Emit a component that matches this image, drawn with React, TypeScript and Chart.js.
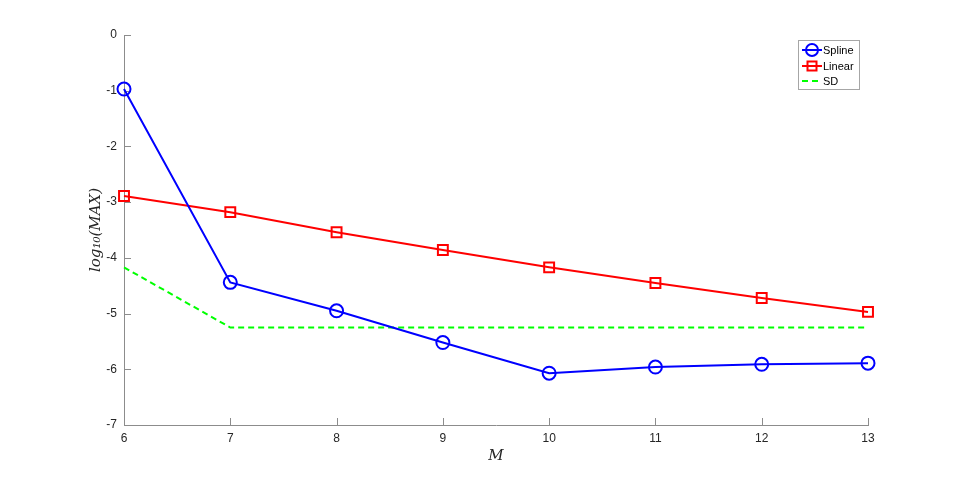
import React, { useEffect, useRef } from "react";
import { Chart, registerables } from "chart.js";

Chart.register(...registerables);

const M = [6, 7, 8, 9, 10, 11, 12, 13];
const spline = [-0.97, -4.44, -4.95, -5.52, -6.07, -5.96, -5.91, -5.89];
const linear = [-2.89, -3.18, -3.54, -3.86, -4.17, -4.45, -4.72, -4.97];
const sd = [-4.17, -5.25, -5.25, -5.25, -5.25, -5.25, -5.25, -5.25];
const xTicks = [6, 7, 8, 9, 10, 11, 12, 13];
const yTicks = [0, -1, -2, -3, -4, -5, -6, -7];
const seriesNames = ["Spline", "Linear", "SD"];
const xTitle = "M";
const yTitle = "log₁₀(MAX)";

const AXIS_COLOR = "#8c8c8c";
const TEXT_COLOR = "#262626";
const FONT = "Liberation Sans, Arial, Helvetica, sans-serif";

const overlay = {
  id: "overlay",
  beforeDatasetsDraw(chart: any) {
    const ctx = chart.ctx;
    const area = chart.chartArea;
    const xs = chart.scales.x;
    const ys = chart.scales.y;
    ctx.save();
    ctx.strokeStyle = AXIS_COLOR;
    ctx.lineWidth = 1;
    ctx.beginPath();
    for (const v of xTicks) {
      const px = Math.round(xs.getPixelForValue(v)) + 0.5;
      ctx.moveTo(px, area.bottom);
      ctx.lineTo(px, area.bottom - 7);
    }
    for (const v of yTicks) {
      const py = Math.round(ys.getPixelForValue(v)) + 0.5;
      ctx.moveTo(area.left, py);
      ctx.lineTo(area.left + 7, py);
    }
    ctx.stroke();
    ctx.restore();
  },
  afterDraw(chart: any) {
    const ctx = chart.ctx;
    const area = chart.chartArea;
    ctx.save();
    ctx.fillStyle = TEXT_COLOR;
    ctx.font = "italic 15px 'DejaVu Serif', 'Liberation Serif', serif";
    ctx.textAlign = "center";
    ctx.textBaseline = "middle";
    ctx.fillText(xTitle, (area.left + area.right) / 2, 456);
    ctx.translate(96, (area.top + area.bottom) / 2);
    ctx.rotate(-Math.PI / 2);
    ctx.font = "italic 15px 'DejaVu Serif', 'Liberation Serif', serif";
    ctx.fillText(yTitle, 0, 0);
    ctx.restore();

    ctx.save();
    const bx = 798.5, by = 40.5, bw = 61, bh = 49;
    ctx.fillStyle = "#ffffff";
    ctx.fillRect(bx, by, bw, bh);
    ctx.strokeStyle = "#a6a6a6";
    ctx.lineWidth = 1;
    ctx.strokeRect(bx, by, bw, bh);
    const rows = [50, 66, 81];
    const colors = ["#0000ff", "#ff0000", "#00ff00"];
    ctx.font = `11px ${FONT}`;
    ctx.textBaseline = "middle";
    ctx.textAlign = "left";
    for (let i = 0; i < 3; i++) {
      const y = rows[i];
      ctx.strokeStyle = colors[i];
      ctx.lineWidth = 2;
      ctx.beginPath();
      if (i === 2) ctx.setLineDash([6, 4]);
      ctx.moveTo(802, y);
      ctx.lineTo(822, y);
      ctx.stroke();
      ctx.setLineDash([]);
      if (i === 0) {
        ctx.beginPath();
        ctx.arc(812, y, 6, 0, Math.PI * 2);
        ctx.stroke();
      } else if (i === 1) {
        ctx.strokeRect(807.5, y - 4.5, 9, 9);
      }
      ctx.fillStyle = "#000000";
      ctx.fillText(seriesNames[i], 823, y + 1);
    }
    ctx.restore();
  },
};

export default function App() {
  const ref = useRef<HTMLCanvasElement | null>(null);
  useEffect(() => {
    if (!ref.current) return;
    const mk = (arr: number[]) => M.map((m, i) => ({ x: m, y: arr[i] }));
    const chart = new Chart(ref.current, {
      type: "line",
      data: {
        datasets: [
          {
            label: seriesNames[0],
            data: mk(spline),
            borderColor: "#0000ff",
            borderWidth: 2,
            pointStyle: "circle",
            pointRadius: 6.5,
            pointBorderWidth: 2,
            pointBackgroundColor: "rgba(0,0,0,0)",
            pointBorderColor: "#0000ff",
            tension: 0,
            clip: false,
          },
          {
            label: seriesNames[1],
            data: mk(linear),
            borderColor: "#ff0000",
            borderWidth: 2,
            pointStyle: "rect",
            pointRadius: 7,
            pointBorderWidth: 2,
            pointBackgroundColor: "rgba(0,0,0,0)",
            pointBorderColor: "#ff0000",
            tension: 0,
            clip: false,
          },
          {
            label: seriesNames[2],
            data: mk(sd),
            borderColor: "#00ff00",
            borderWidth: 2,
            borderDash: [6, 4],
            pointRadius: 0,
            tension: 0,
            clip: false,
          },
        ],
      },
      options: {
        animation: false,
        responsive: false,
        maintainAspectRatio: false,
        layout: { padding: { left: 0, top: 35, right: 86, bottom: 0 } },
        plugins: { legend: { display: false }, tooltip: { enabled: false } },
        scales: {
          x: {
            type: "linear",
            min: 6,
            max: 13,
            afterFit: (s: any) => { s.height = 53; },
            afterBuildTicks: (s: any) => { s.ticks = xTicks.map((v) => ({ value: v })); },
            grid: { display: false, drawTicks: false },
            border: { display: true, color: AXIS_COLOR, width: 1 },
            ticks: { color: TEXT_COLOR, font: { size: 12, family: FONT }, padding: 6, maxRotation: 0 },
          },
          y: {
            type: "linear",
            min: -7,
            max: 0,
            afterFit: (s: any) => { s.width = 124; },
            afterBuildTicks: (s: any) => { s.ticks = yTicks.slice().reverse().map((v) => ({ value: v })); },
            grid: { display: false, drawTicks: false },
            border: { display: true, color: AXIS_COLOR, width: 1 },
            ticks: { color: TEXT_COLOR, font: { size: 12, family: FONT }, padding: 7 },
          },
        },
      },
      plugins: [overlay],
    });
    return () => chart.destroy();
  }, []);
  return (
    <div style={{ position: "absolute", left: 0, top: 0, width: 954, height: 478, background: "#fff" }}>
      <canvas ref={ref} width={954} height={478} style={{ width: 954, height: 478 }} />
    </div>
  );
}
